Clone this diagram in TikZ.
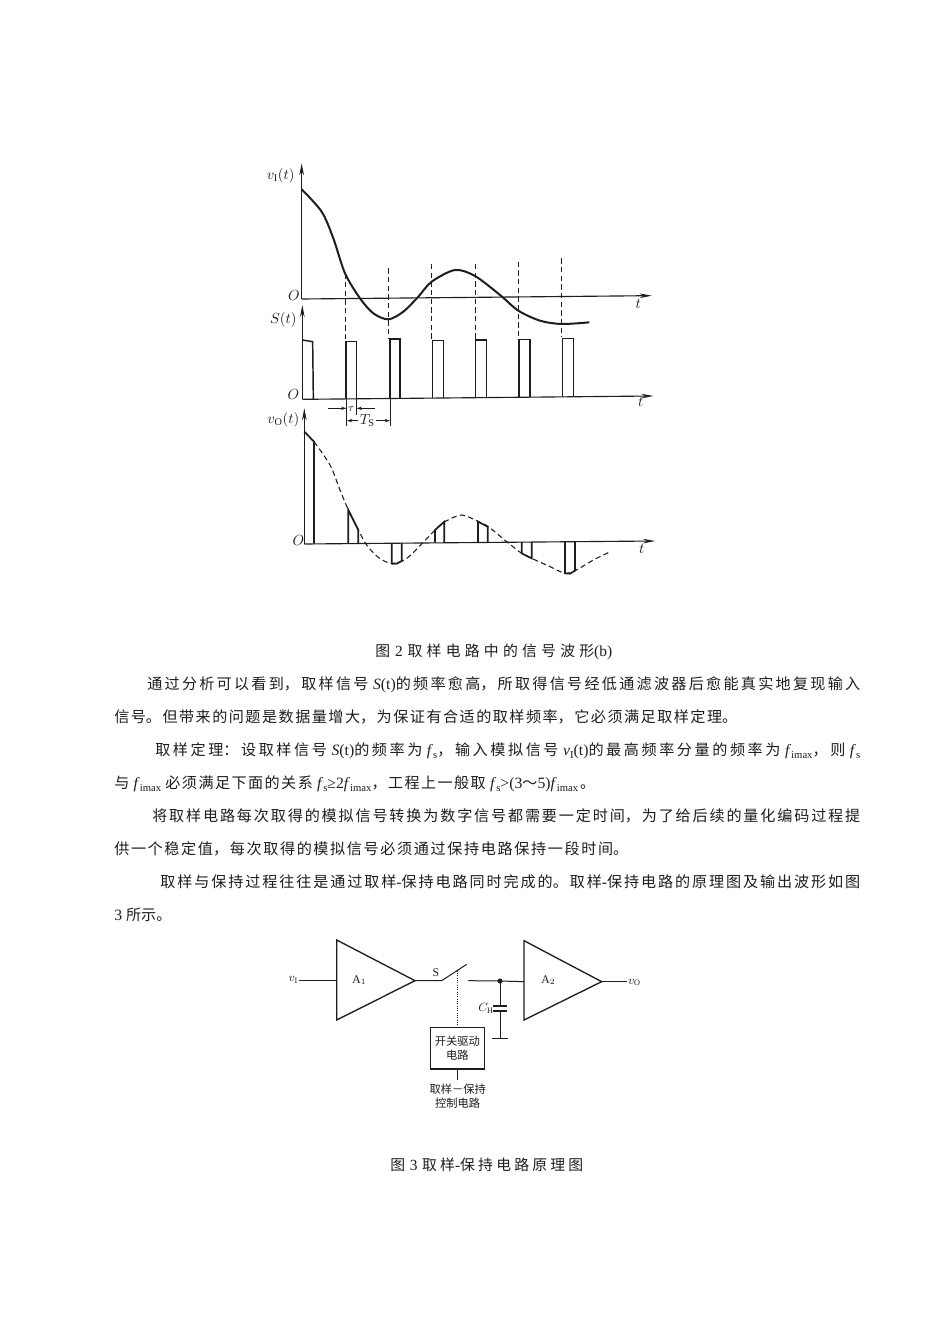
\documentclass[tikz,border=0pt]{standalone}
\usepackage{fontspec}
\setmainfont{Liberation Serif}
\newfontfamily\zh{Noto Sans CJK SC}[Scale=0.96]
\usetikzlibrary{arrows.meta}
\XeTeXlinebreaklocale "zh"
\XeTeXlinebreakskip=0pt plus 6pt
\newcommand{\dn}[1]{\raisebox{-0.45ex}{\footnotesize #1}}
\newcommand{\fitline}[2]{\parbox{\dimexpr #1pt*3/4\relax}{\parindent=0pt\parfillskip=0pt\tolerance=10000\hbadness=10000\hfuzz=20pt\emergencystretch=40pt #2}}
\definecolor{ink}{HTML}{1E1E1E}
\tikzset{
  body/.style={anchor=west,inner sep=0pt,font=\fontsize{11.8}{14}\selectfont,text=ink},
  capt/.style={anchor=west,inner sep=0pt,font=\fontsize{11.6}{14}\selectfont,text=ink},
  axis/.style={draw=ink,line width=0.85pt,-{Stealth[length=9pt,width=3.5pt]}},
  wave/.style={draw=ink,line width=1.5pt},
  thin wave/.style={draw=ink,line width=0.8pt,dash pattern=on 4pt off 2.5pt},
  guide/.style={draw=ink,line width=0.7pt,dash pattern=on 4pt off 2.5pt},
  pulse/.style={draw=ink,line width=1.1pt},
  sample/.style={draw=ink,line width=1.3pt},
  dim/.style={draw=ink,line width=0.5pt,-{Stealth[length=4pt,width=2.5pt]}},
  dimline/.style={draw=ink,line width=0.7pt},
  lab/.style={inner sep=0pt,text=ink,font=\fontsize{11}{13}\selectfont},
  wire/.style={draw=ink,line width=0.75pt},
  amp/.style={draw=ink,line width=1pt,line join=miter},
  cirlab/.style={inner sep=0pt,text=ink,font=\fontsize{8.8}{10}\selectfont},
  cirzh/.style={inner sep=0pt,text=ink,font=\fontsize{8.8}{11.5}\selectfont\zh,align=center},
}
\begin{document}
\begin{tikzpicture}[x=0.75pt,y=-0.75pt]
\useasboundingbox[fill=white] (0,0) rectangle (950,1344);

% ---------- waveforms, upper part
\begin{scope}[x=0.25pt,y=-0.25pt,xshift=187.5pt,yshift=-112.5pt]
  \draw[axis] (155,447) -- (155,40);
  \draw[axis] (155,447) -- (1205,437);
  \draw[wave,smooth] plot coordinates {(155,118)(215,185)(250,265)(285,370)(330,445)(370,490)(415,508)(460,485)(505,440)(545,395)(615,360)(675,378)(750,435)(805,482)(870,512)(935,522)(1018,517)};
  \draw[guide] (285,370) -- (285,570);
  \draw[guide] (415,355) -- (415,565);
  \draw[guide] (545,342) -- (545,570);
  \draw[guide] (675,342) -- (675,570);
  \draw[guide] (805,335) -- (805,565);
  \draw[guide] (935,325) -- (935,562);
  \node[lab] (lvi) at (92,78) {$v_{\mathrm{I}}(t)$};
  \node[lab] (oa) at (132,437) {$O$};
  \node[lab] (ta) at (1165,463) {$t$};

  \draw[axis] (157,748) -- (157,465);
  \draw[axis] (157,748) -- (1210,738);
  \draw[pulse] (157,570) -- (188,575) -- (190,747);
  \draw[pulse] (288,747) -- (288,575) -- (320,575) -- (320,746);
  \draw[pulse] (420,746) -- (420,567) -- (450,567) -- (450,745);
  \draw[pulse] (547,745) -- (547,572) -- (580,572) -- (580,744);
  \draw[pulse] (676,744) -- (676,570) -- (710,570) -- (710,743);
  \draw[pulse] (807,743) -- (807,568) -- (840,568) -- (840,742);
  \draw[pulse] (938,742) -- (938,565) -- (970,565) -- (970,741);
  \node[lab] (ls) at (100,510) {$S(t)$};
  \node[lab] (ob) at (130,733) {$O$};
  \node[lab] (tb) at (1172,757) {$t$};

  \draw[dimline] (290,747) -- (290,828);
  \draw[dimline] (319,747) -- (319,795);
  \draw[dimline] (421,747) -- (421,828);
  \draw[dim] (235,775) -- (289,775);
  \draw[dim] (375,775) -- (320,775);
  \node[lab,font=\fontsize{8.5}{10}\selectfont] (ltau) at (304,777) {$\tau$};
  \node[lab] (lts) at (352,812) {$T_{\mathrm{S}}$};
  \draw[dim] (lts.west) ++(-1pt,0) -- (291,812);
  \draw[dim] (lts.east) ++(1pt,0) -- (420,812);
\end{scope}

% ---------- waveforms, lower part
\begin{scope}[x=0.25pt,y=-0.25pt,xshift=187.5pt,yshift=-300pt]
  \draw[axis] (163,432) -- (163,25);
  \draw[axis] (163,432) -- (1215,423);
  \draw[thin wave,smooth] plot coordinates {(192,125)(240,195)(270,270)(295,330)(325,390)(350,435)(385,472)(428,492)(470,475)(515,432)(555,390)(585,365)(635,345)(685,365)(715,380)(770,425)(815,460)(845,475)(900,500)(945,520)(975,512)(1030,480)(1075,458)};
  \draw[sample] (163,95) -- (192,125) -- (192,431);
  \draw[sample] (295,430) -- (295,330) -- (325,390) -- (325,430);
  \draw[sample] (425,429) -- (425,490) -- (440,491) -- (455,483) -- (455,429);
  \draw[sample] (555,428) -- (555,390) -- (583,365) -- (583,428);
  \draw[sample] (684,427) -- (684,365) -- (713,380) -- (713,427);
  \draw[sample] (815,426) -- (815,460) -- (845,475) -- (845,426);
  \draw[sample] (945,425) -- (945,520) -- (960,521) -- (975,512) -- (975,425);
  \node[lab] (lvo) at (100,60) {$v_{\mathrm{O}}(t)$};
  \node[lab] (oc) at (145,423) {$O$};
  \node[lab] (tc) at (1175,448) {$t$};
\end{scope}

% ---------- text
\node[capt] (cap2) at (375,652) {\fitline{237}{{\zh 图} 2 {\zh 取样电路中的信号波形}(b)}};
\node[body] (l1) at (147,685) {\fitline{713}{{\zh 通过分析可以看到，取样信号} \textit{S}(t){\zh 的频率愈高，所取得信号经低通滤波器后愈能真实地复现输入}}};
\node[body] (l2) at (114,717) {\fitline{623}{{\zh 信号。但带来的问题是数据量增大，为保证有合适的取样频率，它必须满足取样定理。}}};
\node[body] (l3) at (155,751) {\fitline{705}{{\zh 取样定理：设取样信号} \textit{S}(t){\zh 的频率为} \textit{f}\dn{s}{\zh ，输入模拟信号} \textit{v}\dn{I}(t){\zh 的最高频率分量的频率为} \textit{f}\dn{imax}{\zh ，则} \textit{f}\dn{s}}};
\node[body] (l4) at (114,784) {\fitline{481}{{\zh 与} \textit{f}\dn{imax} {\zh 必须满足下面的关系} \textit{f}\dn{s}≥2\textit{f}\dn{imax}{\zh ，工程上一般取} \textit{f}\dn{s}>(3{\zh ～}5)\textit{f}\dn{imax}\kern1.5pt{\zh 。}}};
\node[body] (l5) at (152,816) {\fitline{708}{{\zh 将取样电路每次取得的模拟信号转换为数字信号都需要一定时间，为了给后续的量化编码过程提}}};
\node[body] (l6) at (114,849) {\fitline{514}{{\zh 供一个稳定值，每次取得的模拟信号必须通过保持电路保持一段时间。}}};
\node[body] (l7) at (160,882) {\fitline{700}{{\zh 取样与保持过程往往是通过取样}-{\zh 保持电路同时完成的。取样}-{\zh 保持电路的原理图及输出波形如图}}};
\node[body] (l8) at (114,915) {\mbox{3 {\zh 所示。}}};
\node[capt] (cap3) at (390,1165) {\fitline{193}{{\zh 图} 3 {\zh 取样}-{\zh 保持电路原理图}}};

% ---------- circuit
\begin{scope}[x=0.25pt,y=-0.25pt,xshift=202.5pt,yshift=-697.5pt]
  \coordinate (inp) at (88,152);
  \coordinate (a1i) at (200,152);
  \coordinate (a1t) at (200,30);
  \coordinate (a1b) at (200,270);
  \coordinate (a1o) at (435,152);
  \coordinate (swa) at (515,152);
  \coordinate (swb) at (590,103);
  \coordinate (swm) at (563,122);
  \coordinate (swc) at (595,152);
  \coordinate (jn) at (690,153);
  \coordinate (a2i) at (762,155);
  \coordinate (a2t) at (762,32);
  \coordinate (a2b) at (762,270);
  \coordinate (a2o) at (995,155);
  \coordinate (outp) at (1070,155);
  \coordinate (capa) at (690,228);
  \coordinate (capb) at (690,243);
  \coordinate (gnd) at (690,325);
  \coordinate (ctl) at (563,450);

  \node[cirlab] (lin) at (70,150) {$v_{\mathrm{I}}$};
  \node[cirlab] (lout) at (1093,158) {$v_{\mathrm{O}}$};
  \node[cirlab] (lS) at (498,128) {S};
  \node[cirlab] (lA1) at (268,150) {$\mathrm{A}_1$};
  \node[cirlab] (lA2) at (835,150) {$\mathrm{A}_2$};
  \node[cirlab] (lCH) at (648,235) {$C_{\mathrm{H}}$};

  \draw[wire] (inp) -- (a1i);
  \draw[amp] (a1t) -- (a1o) -- (a1b) -- cycle;
  \draw[wire] (a1o) -- (swa) -- (swb);
  \draw[wire] (swc) -- (jn) -- (a2i);
  \fill[ink] (jn) circle (1.9pt);
  \draw[amp] (a2t) -- (a2o) -- (a2b) -- cycle;
  \draw[wire] (a2o) -- (outp);
  \draw[wire] (jn) -- (capa);
  \draw[wire,line width=1.1pt] ([xshift=-5.5pt]capa) -- ([xshift=5.5pt]capa);
  \draw[wire,line width=1.1pt] ([xshift=-5.5pt]capb) -- ([xshift=5.5pt]capb);
  \draw[wire] (capb) -- (gnd);
  \draw[wire,line width=1.1pt] ([xshift=-6pt]gnd) -- ([xshift=6pt]gnd);

  \node[draw=ink,line width=1pt,minimum width=40.5pt,minimum height=31pt,inner sep=0pt,cirzh] (drv) at (562,355) {开关驱动\\[-1pt]电路};
  \draw[wire,densely dotted,line width=1pt] (swm) -- (swm |- drv.north);
  \draw[wire] (drv.south -| ctl) -- (ctl);
  \node[cirzh] (lctl) at (563,498) {取样－保持\\[-1pt]控制电路};
\end{scope}
\end{tikzpicture}
\end{document}
